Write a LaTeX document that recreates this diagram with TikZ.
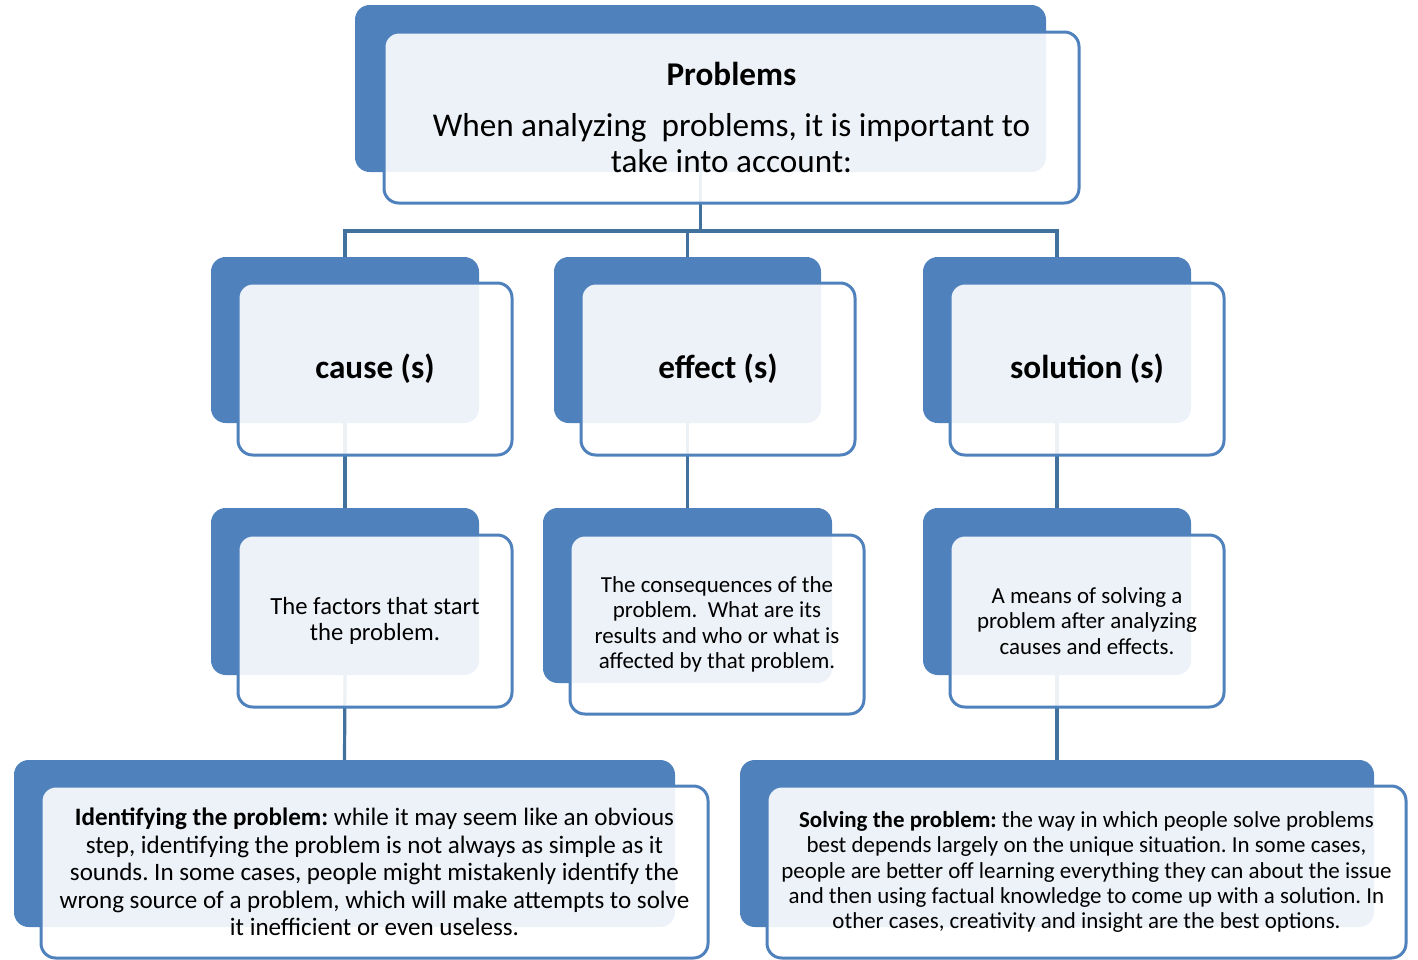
\documentclass[tikz,border=0pt]{standalone}
\usepackage{fontspec}
\setmainfont{Carlito}
\frenchspacing
\definecolor{boxblue}{HTML}{4F81BD}
\definecolor{connblue}{HTML}{41719C}
\begin{document}
\begin{tikzpicture}[x=0.75pt,y=-0.75pt,
  back/.style={draw=none,fill=boxblue,rounded corners=11pt,inner sep=0pt,outer sep=0pt},
  front/.style={draw=boxblue,line width=2.25pt,fill=white,fill opacity=0.9,text opacity=1,rounded corners=11pt,inner sep=0pt,outer sep=0pt,align=center},
  conn/.style={draw=connblue,line width=2.4pt},
  big/.style={font=\fontsize{24.9}{27}\selectfont},
  mid/.style={font=\fontsize{17.2}{19.1}\selectfont},
  midb/.style={font=\fontsize{18.5}{19.6}\selectfont},
  low/.style={font=\fontsize{18.8}{20.6}\selectfont},
  lowr/.style={font=\fontsize{17.2}{19}\selectfont}]
\useasboundingbox (0,0) rectangle (1418,960);
\coordinate (j0) at (700,231);
% back boxes
\node[back,minimum width=691*0.75pt,minimum height=167*0.75pt] (d0) at (700.5,88.5) {};
\node[back,minimum width=268*0.75pt,minimum height=166*0.75pt] (dc) at (345,340) {};
\node[back,minimum width=267*0.75pt,minimum height=166*0.75pt] (de) at (687.5,340) {};
\node[back,minimum width=268*0.75pt,minimum height=166*0.75pt] (ds) at (1057,340) {};
\node[back,minimum width=268*0.75pt,minimum height=167*0.75pt] (dc2) at (345,591.5) {};
\node[back,minimum width=289*0.75pt,minimum height=175*0.75pt] (de2) at (687.5,595.5) {};
\node[back,minimum width=268*0.75pt,minimum height=167*0.75pt] (ds2) at (1057,591.5) {};
\node[back,minimum width=661*0.75pt,minimum height=167*0.75pt] (dl3) at (344.5,843.5) {};
\node[back,minimum width=634*0.75pt,minimum height=167*0.75pt] (dr3) at (1057,843.5) {};
% connectors
\draw[conn] (d0.south) -- (d0.south |- j0);
\draw[conn] (dc.north) -- (dc.north |- j0) -- (ds.north |- j0) -- (ds.north);
\draw[conn] (de.north) -- (de.north |- j0);
\draw[conn] (dc.south) -- (dc2.north);
\draw[conn] (de.south) -- (de2.north);
\draw[conn] (ds.south) -- (ds2.north);
\draw[conn] (dc2.south) -- (dl3.north);
\draw[conn] (ds2.south) -- (dr3.north);
% front boxes
\node[front,big,minimum width=695*0.75pt,minimum height=171*0.75pt] (f0) at (731.5,117.5)
  {\textbf{Problems}\\[11pt]When analyzing\ \ problems, it is important to\\take into account:};
\node[front,big,minimum width=274*0.75pt,minimum height=172*0.75pt] (fc) at (375,369) {\textbf{cause (s)}};
\node[front,big,minimum width=274*0.75pt,minimum height=172*0.75pt] (fe) at (718,369) {\textbf{effect (s)}};
\node[front,big,minimum width=274*0.75pt,minimum height=172*0.75pt] (fs) at (1087,369) {\textbf{solution (s)}};
\node[front,midb,minimum width=274*0.75pt,minimum height=172*0.75pt] (fc2) at (375,621) {The factors that start\\the problem.};
\node[front,mid,minimum width=294*0.75pt,minimum height=179*0.75pt] (fe2) at (717,624.5) {The consequences of the\\problem.\ \ What are its\\results and who or what is\\affected by that problem.};
\node[front,mid,minimum width=274*0.75pt,minimum height=172*0.75pt] (fs2) at (1087,621) {A means of solving a\\problem after analyzing\\causes and effects.};
\node[front,low,minimum width=667*0.75pt,minimum height=172*0.75pt] (fl3) at (374.5,872)
  {\textbf{Identifying the problem:} while it may seem like an obvious\\step, identifying the problem is not always as simple as it\\sounds. In some cases, people might mistakenly identify the\\wrong source of a problem, which will make attempts to solve\\it inefficient or even useless.};
\node[front,lowr,minimum width=639*0.75pt,minimum height=172*0.75pt] (fr3) at (1086.5,872)
  {\textbf{Solving the problem:} the way in which people solve problems\\best depends largely on the unique situation. In some cases,\\people are better off learning everything they can about the issue\\and then using factual knowledge to come up with a solution. In\\other cases, creativity and insight are the best options.};
\end{tikzpicture}
\end{document}
